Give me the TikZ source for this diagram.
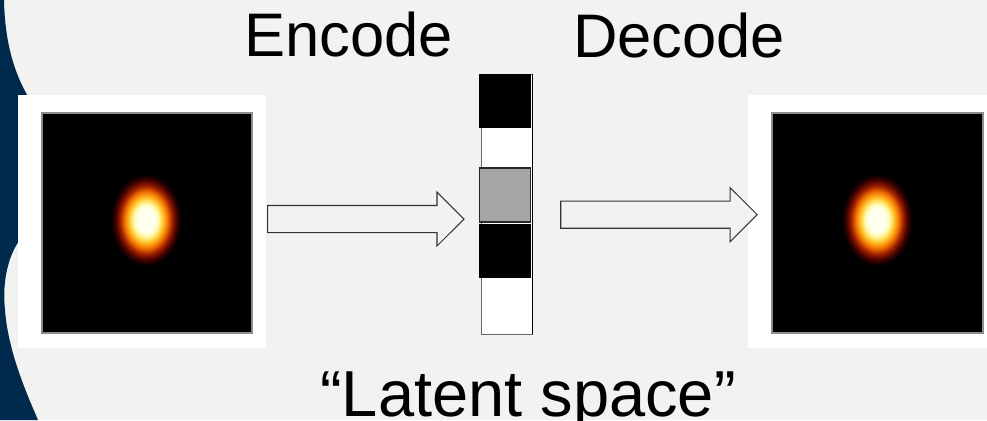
\documentclass[tikz,border=0pt]{standalone}
\usepackage{fontspec}
\setmainfont{Liberation Sans}
\usetikzlibrary{shapes.arrows}

\definecolor{slidebg}{RGB}{242,242,241}
\definecolor{navy}{RGB}{0,41,78}
\definecolor{latgray}{RGB}{166,166,166}
% heat colours for the spot
\definecolor{hotA}{RGB}{255,255,238}
\definecolor{hotB}{RGB}{255,250,180}
\definecolor{hotC}{RGB}{255,222,90}
\definecolor{hotD}{RGB}{255,165,20}
\definecolor{hotE}{RGB}{232,100,0}
\definecolor{hotF}{RGB}{160,34,0}
\definecolor{hotG}{RGB}{75,4,0}
\definecolor{hotH}{RGB}{16,0,0}

% the path edge sits at 25bp
\pgfdeclareradialshading{hot}{\pgfpoint{0bp}{0bp}}{%
color(0bp)=(hotA); color(6bp)=(hotA); color(8.5bp)=(hotB);
color(10.5bp)=(hotC); color(13bp)=(hotD); color(15.5bp)=(hotE);
color(18bp)=(hotF); color(21bp)=(hotG); color(23.5bp)=(hotH);
color(25bp)=(black); color(50bp)=(black)}

\begin{document}
\begin{tikzpicture}[x=0.02cm,y=-0.02cm,
  frame/.style={fill=white,inner sep=0pt,minimum height=5.06cm},
  pic/.style={fill=black,draw=black!45,line width=0.9pt,inner sep=0pt,
    minimum width=4.2cm,minimum height=4.4cm},
  cell/.style={inner sep=0pt,minimum width=1.04cm,minimum height=1.08cm},
  blockarrow/.style={single arrow,draw=black!80,fill=slidebg,line width=0.6pt,
    inner xsep=0pt,inner ysep=0.26cm,minimum height=3.93cm,
    single arrow head extend=0.27cm},
  big/.style={anchor=base,font=\fontsize{35}{42}\selectfont}]
\useasboundingbox (0,0) rectangle (987,420);
\fill[slidebg] (0,0) rectangle (987,420);
% wavy band on the left
\fill[navy] (0,0) -- (4,0) .. controls (5,45) and (15,75) .. (30,100) -- (30,228)
  .. controls (8,248) and (2,280) .. (5,310)
  .. controls (8,350) and (25,390) .. (38,420) -- (0,420) -- cycle;

% input and output images
\node[frame,minimum width=4.96cm] (inframe) at (142,221.5) {};
\node[pic] (inpic) at (147,223) {};
\fill[shading=hot] (146,220) ellipse [x radius=36, y radius=47];
\node[frame,minimum width=4.78cm] (outframe) at (867.5,221.5) {};
\node[pic,minimum width=4.22cm] (outpic) at (877.5,223) {};
\fill[shading=hot] (877,220) ellipse [x radius=36, y radius=47];

% code vector
\node[draw=black!60,fill=white,inner sep=0pt,minimum width=1.02cm,
  minimum height=5.2cm] (code) at (506.5,204) {};
\draw[line width=0.8pt] (code.north east) -- (code.south east);
\node[cell,fill=black] (z1) at (505.2,101) {};
\node[cell,fill=latgray,draw=black!85,line width=0.8pt,
  minimum width=1.01cm] (z2) at (505,195) {};
\node[cell,fill=black] (z3) at (505.2,251) {};

% arrows
\node[blockarrow] (enc) at (359,219) {};
\node[blockarrow] (dec) at (652.2,214.7) {};

\node[big] (enctxt) at (348.5,56) {Encode};
\node[big] (dectxt) at (679,57) {Decode};
\node[big,font=\fontsize{37}{44}\selectfont] (lattxt) at (528,416) {“Latent space”};
\end{tikzpicture}
\end{document}
